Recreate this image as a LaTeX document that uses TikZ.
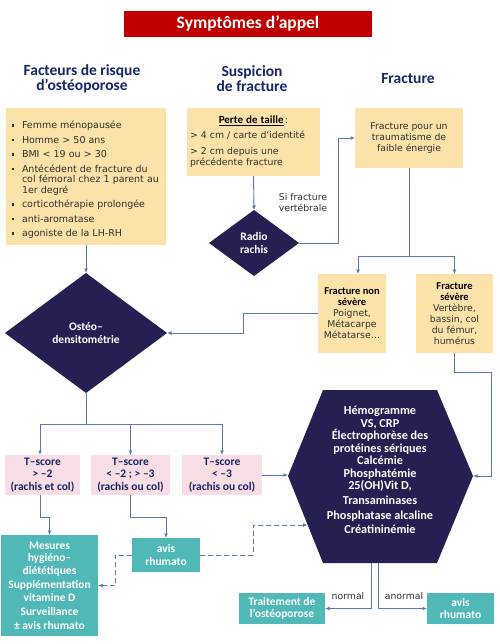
\documentclass[tikz,border=0pt]{standalone}
\usepackage{fontspec}
\setmainfont{DejaVu Sans}
\newfontfamily\cali{Carlito}
\usetikzlibrary{arrows.meta,shapes.geometric}

\definecolor{navy}{RGB}{37,32,82}
\definecolor{headblue}{RGB}{22,38,102}
\definecolor{linkblue}{RGB}{88,122,178}
\definecolor{paleyellow}{RGB}{251,226,168}
\definecolor{palepink}{RGB}{249,221,228}
\definecolor{tealbox}{RGB}{80,184,182}
\definecolor{titlered}{RGB}{192,0,0}
\definecolor{bodygray}{RGB}{48,48,48}

% bullet item with hanging indent
\newcommand{\sqitem}[1]{\par\hangindent=11pt\hangafter=1\noindent
  \makebox[11pt][l]{\hspace{0.5pt}\raisebox{2.2pt}{\rule{2.4pt}{2.4pt}}}#1}
% bold heading inside the yellow fracture boxes
\newcommand{\fhead}{\cali\bfseries\fontsize{10.5}{11}\selectfont\color{black}}

\begin{document}
\begin{tikzpicture}[x=1pt,y=-1pt,
  every node/.style={inner sep=0pt,outer sep=0pt},
  ybox/.style={fill=paleyellow,text=bodygray,font=\fontsize{9.3}{11}\selectfont},
  pbox/.style={fill=palepink,text=headblue,align=center,
    font=\cali\bfseries\fontsize{11.5}{12.5}\selectfont},
  tbox/.style={fill=tealbox,text=white,align=center,
    font=\cali\bfseries\fontsize{11.5}{12.5}\selectfont},
  dia/.style={diamond,fill=navy,text=white,align=center,
    font=\cali\bfseries\fontsize{11.5}{12.5}\selectfont},
  head/.style={text=headblue,align=center,
    font=\cali\bfseries\fontsize{15.5}{15}\selectfont},
  note/.style={text=bodygray,align=center,font=\fontsize{9.3}{11}\selectfont},
  arr/.style={draw=linkblue,line width=0.9pt,-{Latex[length=4.5pt,width=4pt]}},
  darr/.style={arr,dash pattern=on 5pt off 3pt},
  link/.style={draw=linkblue,line width=0.9pt}]

\useasboundingbox[fill=white] (0,0) rectangle (499,644);

% title and column headings
\node[fill=titlered,minimum width=248,minimum height=26,text=white,
  font=\cali\bfseries\fontsize{17.5}{20}\selectfont] (title) at (248,24) {Symptômes d’appel};
\node[head] (h1) at (82,79) {Facteurs de risque\\d’ostéoporose};
\node[head] (h2) at (252,79) {Suspicion\\de fracture};
\node[head] (h3) at (408,79) {Fracture};

% risk factors
\node[ybox,minimum width=160,minimum height=137,text width=150pt] (risk) at (86,176.5)
{\setlength{\parskip}{4pt}\fontsize{9.5}{10.5}\selectfont
 \sqitem{Femme ménopausée}
 \sqitem{Homme > 50 ans}
 \sqitem{BMI < 19 ou > 30}
 \sqitem{Antécédent de fracture du\newline col fémoral chez 1 parent au\newline 1er degré}
 \sqitem{corticothérapie prolongée}
 \sqitem{anti-aromatase}
 \sqitem{agoniste de la LH-RH}\par};

% suspected fracture
\node[ybox,minimum width=133,minimum height=68,text width=127pt,align=left] (perte) at (253.5,142)
{\makebox[127pt]{{\cali\bfseries\fontsize{11}{12}\selectfont\color{black}\underline{Perte de taille}}\,:}\\[4pt]
 > 4 cm / carte d’identité\\[5pt]
 > 2 cm depuis une\\
 précédente fracture};
\node[dia,minimum width=90,minimum height=66] (radio) at (254,243) {Radio\\rachis};
\node[note] (sifrac) at (303,203) {Si fracture\\vertébrale};

% fracture
\node[ybox,minimum width=108,minimum height=60,align=center] (frac) at (409,138)
{Fracture pour un\\traumatisme de\\faible énergie};
\node[ybox,minimum width=68,minimum height=79,align=center] (nonsev) at (352,313.5)
{{\fhead Fracture non}\\{\fhead sévère}\\Poignet,\\Métacarpe\\Métatarse…};
\node[ybox,minimum width=77,minimum height=79,align=center] (sev) at (454.5,313.5)
{{\fhead Fracture}\\{\fhead sévère}\\Vertèbre,\\bassin, col\\du fémur,\\humérus};

% densitometry and T-score results
\node[dia,minimum width=162,minimum height=120] (osteo) at (86,333) {Ostéo–\\densitométrie};
\node[pbox,minimum width=75,minimum height=40] (tA) at (42.5,475) {T–score\\> –2\\(rachis et col)};
\node[pbox,minimum width=79,minimum height=40] (tB) at (130.5,475) {T–score\\< –2 ; > –3\\(rachis ou col)};
\node[pbox,minimum width=80,minimum height=40] (tC) at (222,475) {T–score\\< –3\\(rachis ou col)};

% laboratory work-up
\fill[navy] (323,390) -- (437,390) -- (473,476) -- (437,563) -- (323,563) -- (288,476) -- cycle;
\node[text=white,align=center,font=\cali\bfseries\fontsize{12.2}{12.5}\selectfont] (hex) at (380,470)
{Hémogramme\\VS, CRP\\Électrophorèse des\\protéines sériques\\Calcémie\\Phosphatémie\\25(OH)Vit D,\\[2pt]Transaminases\\[3pt]Phosphatase alcaline\\[1pt]Créatininémie};
\coordinate (hexL) at (288,475);
\coordinate (hexR) at (473,476);
\coordinate (hexLL) at (307.5,525);
\coordinate (hexB1) at (371,563);
\coordinate (hexB2) at (378,563);

% outcomes
\node[tbox,minimum width=97,minimum height=101] (mes) at (49.5,585.5)
{Mesures\\hygiéno–\\diététiques\\[2pt]Supplémentation\\vitamine D\\[2pt]Surveillance\\[1pt]± avis rhumato};
\node[tbox,minimum width=68,minimum height=34] (avis1) at (166,555) {avis\\rhumato};
\node[tbox,minimum width=86,minimum height=31] (trait) at (282,608.5) {Traitement de\\l’ostéoporose};
\node[tbox,minimum width=67,minimum height=31] (avis2) at (460.5,608.5) {avis\\rhumato};
\node[note] (normal) at (348,596) {normal};
\node[note] (anormal) at (404,596) {anormal};

% connectors
\draw[arr] (risk.south) -- (osteo.north);
\draw[arr] (perte.south) -- (radio.north);
\draw[arr] (radio.east) -- ++(39,0) |- (frac.west);
\draw[link] (frac.south) -- ++(0,88) coordinate (fsplit);
\draw[arr] (fsplit) -| ([xshift=6pt]nonsev.north);
\draw[arr] (fsplit) -| (sev.north);
\draw[arr] (nonsev.west) -- ++(-75,0) |- (osteo.east);
\draw[arr] (sev.south) -- ++(0,19) -| ([xshift=18pt]hexR) -- (hexR);
\draw[link] (osteo.south) -- ++(0,31) coordinate (tsplit);
\draw[arr] (tsplit) -| ([xshift=-2.5pt]tA.north);
\draw[arr] (tsplit) -| (tB.north);
\draw[arr] (tsplit) -| (tC.north);
\draw[arr] (tC.east) -- (hexL);
\draw[arr] ([xshift=-2.5pt]tA.south) -- ++(0,22) -| (mes.north);
\draw[arr] (tB.south) -- ++(0,22) -| (avis1.north);
\draw[darr] (avis1.west) -- ++(-17,0) |- (mes.east);
\draw[darr] (avis1.east) -- ++(53,0) |- (hexLL);
\draw[arr] (hexB1) |- (trait.east);
\draw[arr] (hexB2) |- (avis2.west);
\end{tikzpicture}
\end{document}
